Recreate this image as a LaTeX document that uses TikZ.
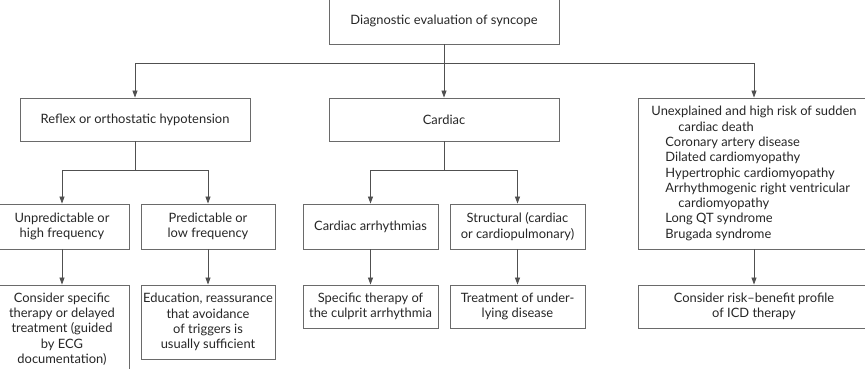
\documentclass[tikz,border=0pt]{standalone}
\usepackage{fontspec}
\setmainfont{Lato}
\usetikzlibrary{arrows.meta}
\definecolor{txt}{HTML}{262626}
\definecolor{ln}{HTML}{6A6A6A}
\definecolor{cn}{HTML}{505050}
\tikzset{
  box/.style={draw=ln, line width=0.9pt, rectangle, inner sep=0pt, align=center,
    text=txt, font=\fontsize{12.9}{15.3}\selectfont},
  conn/.style={draw=cn, line width=0.8pt},
  arr/.style={conn, -{Triangle[length=7pt,width=5pt]}}
}
\begin{document}
\begin{tikzpicture}[x=1pt,y=-1pt]
\useasboundingbox (0,0) rectangle (865,368);
\clip (0,0) rectangle (865,368);
\node[box, minimum width=230pt, minimum height=46pt] (top) at (444,21) {Diagnostic evaluation of syncope};
\node[box, minimum width=230pt, minimum height=43pt] (reflex) at (135,119.5) {Reflex or orthostatic hypotension};
\node[box, minimum width=230pt, minimum height=43pt] (cardiac) at (444,119.5) {Cardiac};
\node[box, minimum width=232pt, minimum height=151pt, align=left] (unexpl) at (754,173.5)
  {Unexplained and high risk of sudden\\
   \hspace*{27pt}cardiac death\\
   \hspace*{14pt}Coronary artery disease\\
   \hspace*{14pt}Dilated cardiomyopathy\\
   \hspace*{14pt}Hypertrophic cardiomyopathy\\
   \hspace*{14pt}Arrhythmogenic right ventricular\\
   \hspace*{27pt}cardiomyopathy\\
   \hspace*{14pt}Long QT syndrome\\
   \hspace*{14pt}Brugada syndrome};
\node[box, minimum width=134pt, minimum height=45pt] (unpred) at (62,226.5) {Unpredictable or\\high frequency};
\node[box, minimum width=134pt, minimum height=45pt] (pred) at (208,226.5) {Predictable or\\low frequency};
\node[box, minimum width=135pt, minimum height=45pt] (arrh) at (370.5,226.5) {Cardiac arrhythmias};
\node[box, minimum width=135pt, minimum height=45pt] (struct) at (517.5,226.5) {Structural (cardiac\\or cardiopulmonary)};
\node[box, minimum width=134pt, minimum height=88pt] (consider) at (62,329) {Consider specific\\therapy or delayed\\treatment (guided\\by ECG\\documentation)};
\node[box, minimum width=134pt, minimum height=74pt] (educ) at (208,322) {Education, reassurance\\that avoidance\\of triggers is\\usually sufficient};
\node[box, minimum width=135pt, minimum height=43pt] (spec) at (370.5,306.5) {Specific therapy of\\the culprit arrhythmia};
\node[box, minimum width=135pt, minimum height=43pt] (treat) at (517.5,306.5) {Treatment of under-\\lying disease};
\node[box, minimum width=232pt, minimum height=43pt] (icd) at (754,306.5) {Consider risk--benefit profile\\of ICD therapy};
% connectors
\draw[arr] (top.south) -- (cardiac.north);
\draw[arr] (top.south) -- ++(0,19) -| (reflex.north);
\draw[arr] (top.south) -- ++(0,19) -| (unexpl.north);
\draw[arr] (reflex.south) -- ++(0,29) -| (unpred.north);
\draw[arr] (reflex.south) -- ++(0,29) -| (pred.north);
\draw[arr] (cardiac.south) -- ++(0,29) -| (arrh.north);
\draw[arr] (cardiac.south) -- ++(0,29) -| (struct.north);
\draw[arr] (unpred.south) -- (consider.north);
\draw[arr] (pred.south) -- (educ.north);
\draw[arr] (arrh.south) -- (spec.north);
\draw[arr] (struct.south) -- (treat.north);
\draw[arr] (unexpl.south) -- (icd.north);
\end{tikzpicture}
\end{document}
